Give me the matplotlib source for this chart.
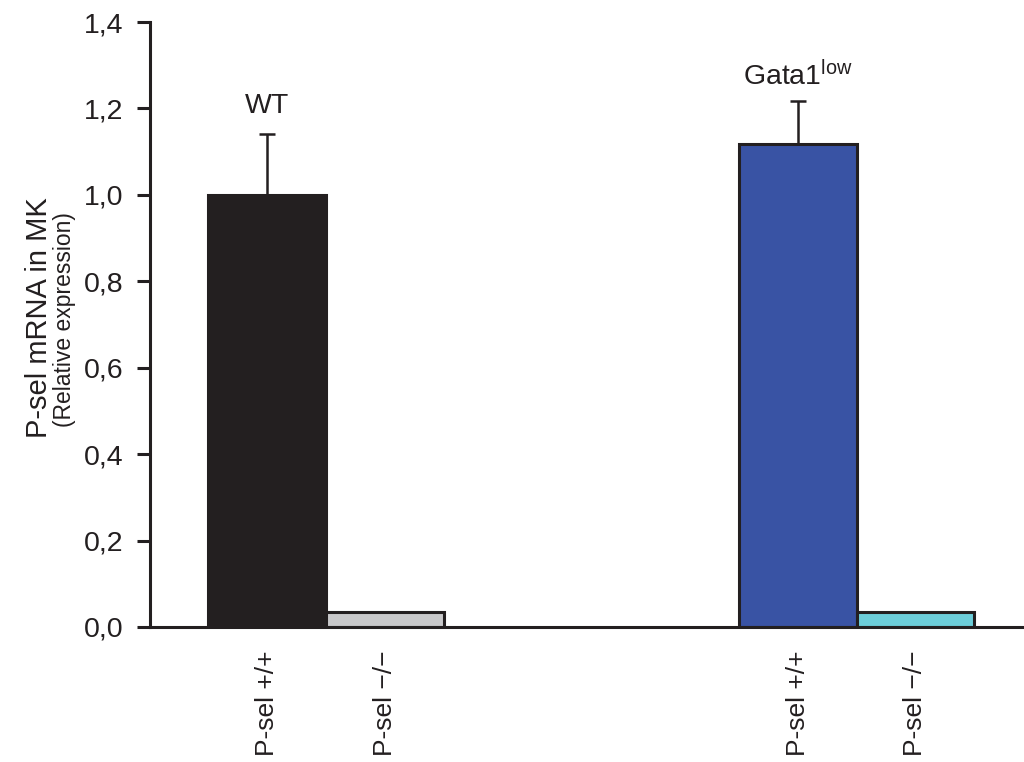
import matplotlib
matplotlib.use("Agg")
import matplotlib.pyplot as plt

plt.rcParams['font.family'] = ['Liberation Sans', 'DejaVu Sans']
plt.rcParams['mathtext.default'] = 'regular'

# Data
labels = ['P-sel +/+', 'P-sel \u2212/\u2212', 'P-sel +/+', 'P-sel \u2212/\u2212']
positions = [0, 1, 4.5, 5.5]
values = [1.0, 0.035, 1.117, 0.035]
errors = [0.14, 0.0, 0.10, 0.0]
colors = ['#231f20', '#c8c8ca', '#3953a4', '#6ccdd9']
group_names = ['WT', 'Gata1$^{low}$']
yticks = [0.0, 0.2, 0.4, 0.6, 0.8, 1.0, 1.2, 1.4]
ytick_labels = ['0,0', '0,2', '0,4', '0,6', '0,8', '1,0', '1,2', '1,4']

INK = '#231f20'

fig = plt.figure(figsize=(10.24, 7.62), dpi=100)
ax = fig.add_axes([150/1024, (762-627)/762, 874/1024, (627-22)/762])

ax.bar(positions, values, width=1.0, color=colors, edgecolor=INK, linewidth=2.2, zorder=2)
for p, v, e in zip(positions, values, errors):
    if e > 0:
        ax.errorbar(p, v, yerr=[[0], [e]], fmt='none', ecolor=INK, elinewidth=1.8,
                    capsize=5.5, capthick=1.8, zorder=3)

ax.set_xlim(-0.99, 6.42)
ax.set_ylim(0, 1.4)
ax.set_yticks(yticks)
ax.set_yticklabels(ytick_labels, fontsize=20.5, color=INK)
ax.set_xticks(positions)
ax.set_xticklabels(labels, rotation=90, fontsize=19, color=INK, va='top', ha='center')
ax.tick_params(axis='x', length=0, pad=17)
ax.tick_params(axis='y', length=9.5, width=2.2, direction='out', pad=9.5, color=INK)

for s in ['top', 'right']:
    ax.spines[s].set_visible(False)
for s in ['left', 'bottom']:
    ax.spines[s].set_linewidth(2.2)
    ax.spines[s].set_color(INK)

# group labels
ax.text(positions[0], 1.189, group_names[0], ha='center', va='baseline', fontsize=20.5, color=INK)
ax.text(positions[2], 1.254, group_names[1], ha='center', va='baseline', fontsize=20.5, color=INK)

# y labels
fig.text(47/1024, 1 - 318/762, 'P-sel mRNA in MK', rotation=90, rotation_mode='anchor',
         ha='center', va='baseline', fontsize=21, color=INK)
fig.text(71/1024, 1 - 320/762, '(Relative expression)', rotation=90, rotation_mode='anchor',
         ha='center', va='baseline', fontsize=16.5, color=INK)

fig.savefig('out.png', dpi=100)
